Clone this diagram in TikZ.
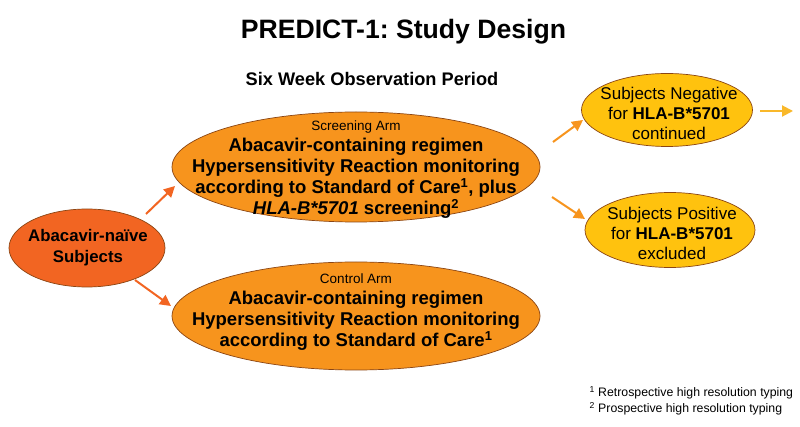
\documentclass[tikz,border=0pt]{standalone}
\usepackage{fontspec}
\setmainfont{Liberation Sans}
\usetikzlibrary{shapes.geometric,arrows.meta}
\definecolor{redorange}{HTML}{F26522}
\definecolor{armorange}{HTML}{F7941D}
\definecolor{gold}{HTML}{FFC20E}
\definecolor{edge}{HTML}{8B4513}
\definecolor{arrowgold}{HTML}{F9B82A}
\frenchspacing
\tikzset{
  x=1pt,y=-1pt,
  oval/.style={ellipse,draw=edge,line width=0.7pt,inner sep=0pt,align=center},
  conn/.style={line width=2pt,-{Triangle[length=11pt,width=11pt]}},
  bigtxt/.style={align=center,font=\fontsize{18.5}{21}\selectfont},
  goldtxt/.style={font=\fontsize{17}{20}\selectfont},
}
\begin{document}
\begin{tikzpicture}
\useasboundingbox (0,0) rectangle (800,427);
\fill[white] (0,0) rectangle (800,427);
\node (title) at (403.5,32) {\fontsize{26.6}{30}\selectfont\bfseries PREDICT-1: Study Design};
\node (period) at (372,79) {\fontsize{18.2}{20}\selectfont\bfseries Six Week Observation Period};

\node[oval,fill=redorange,minimum width=156,minimum height=78] (naive) at (87,248) {};
\node[align=center,font=\fontsize{16.8}{21}\selectfont] (naivetxt) at (88,248) {\bfseries Abacavir-naïve\\\bfseries Subjects};
\node[oval,fill=armorange,minimum width=368,minimum height=110] (screen) at (356,167) {};
\node[bigtxt] (screentxt) at (356,170) {{\fontsize{13.5}{15}\selectfont Screening Arm}\\[0pt]
\bfseries Abacavir-containing regimen\\
\bfseries Hypersensitivity Reaction monitoring\\
\bfseries according to Standard of Care\textsuperscript{1}, plus\\
\bfseries\itshape HLA-B*5701\upshape\ screening\textsuperscript{2}};
\node[oval,fill=armorange,minimum width=368,minimum height=108] (control) at (356,316) {};
\node[bigtxt] (controltxt) at (356,312) {{\fontsize{13.5}{15}\selectfont Control Arm}\\[0pt]
\bfseries Abacavir-containing regimen\\
\bfseries Hypersensitivity Reaction monitoring\\
\bfseries according to Standard of Care\textsuperscript{1}};
\node[oval,fill=gold,minimum width=171,minimum height=73] (neg) at (667,110) {};
\node[goldtxt,align=center] (negtxt) at (669,113) {Subjects Negative\\for \textbf{HLA-B*5701}\\continued};
\node[oval,fill=gold,minimum width=170,minimum height=75] (pos) at (670,230) {};
\node[goldtxt,align=center] (postxt) at (672,233) {Subjects Positive\\for \textbf{HLA-B*5701}\\excluded};

\coordinate (n1) at (146,214); \coordinate (s1) at (175,186);
\coordinate (n2) at (135,280); \coordinate (c1) at (171,306);
\coordinate (s2) at (553,142); \coordinate (g1) at (583,120);
\coordinate (s3) at (552,197); \coordinate (p1) at (585,219);
\coordinate (o1) at (760,111); \coordinate (o2) at (793,111);
\draw[conn,redorange] (n1) -- (s1);
\draw[conn,redorange] (n2) -- (c1);
\draw[conn,armorange] (s2) -- (g1);
\draw[conn,armorange] (s3) -- (p1);
\draw[conn,arrowgold] (o1) -- (o2);

\node[anchor=west,align=left,font=\fontsize{12.3}{16}\selectfont] (notes) at (586,401) {\textsuperscript{1} Retrospective high resolution typing\\\textsuperscript{2} Prospective high resolution typing};
\end{tikzpicture}
\end{document}
